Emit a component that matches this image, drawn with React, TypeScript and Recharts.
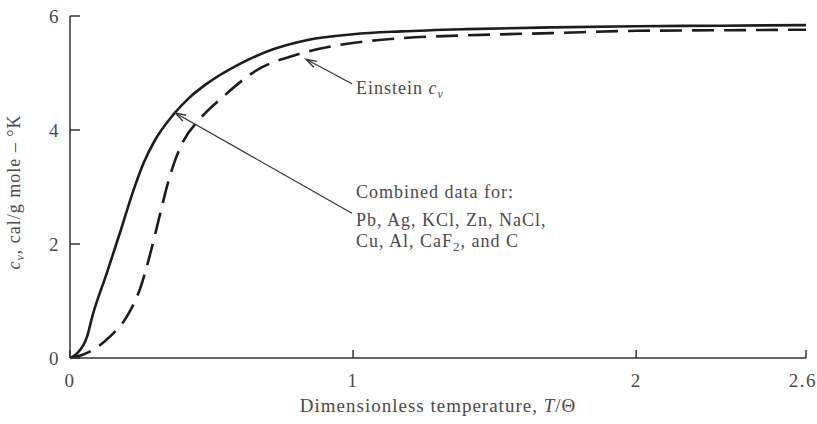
import React from 'react';
import { LineChart, Line, XAxis, YAxis, ReferenceLine, Label } from 'recharts';

// Combined data for Pb, Ag, KCl, Zn, NaCl, Cu, Al, CaF2, and C (solid)
const combinedT = [0, 0.025, 0.06, 0.08, 0.13, 0.18, 0.22, 0.26, 0.3, 0.365, 0.42, 0.48, 0.6, 0.72, 0.84, 1.0, 1.17, 1.4, 1.7, 2.0, 2.3, 2.6];
const combinedCv = [0, 0.08, 0.37, 0.75, 1.49, 2.25, 2.88, 3.42, 3.82, 4.27, 4.56, 4.8, 5.16, 5.42, 5.58, 5.68, 5.73, 5.77, 5.8, 5.82, 5.83, 5.84];

// Einstein c_v (dashed)
const einsteinT = [0, 0.04, 0.08, 0.14, 0.2, 0.25, 0.283, 0.318, 0.341, 0.365, 0.4, 0.46, 0.54, 0.66, 0.8, 0.95, 1.17, 1.4, 1.7, 2.0, 2.3, 2.6];
const einsteinCv = [0, 0.05, 0.14, 0.37, 0.72, 1.25, 1.82, 2.52, 2.98, 3.38, 3.8, 4.2, 4.58, 5.05, 5.32, 5.49, 5.61, 5.66, 5.7, 5.74, 5.75, 5.76];

const xTicks = [0, 1, 2, 2.6];
const yTicks = [0, 2, 4, 6];

// annotation arrows: [from, to] in data units
const einsteinArrow = [{ x: 0.996, y: 4.81 }, { x: 0.834, y: 5.24 }];
const combinedArrow = [{ x: 0.996, y: 2.54 }, { x: 0.372, y: 4.3 }];

const combined = combinedT.map((t, i) => ({ t, cv: combinedCv[i] }));
const einstein = einsteinT.map((t, i) => ({ t, cv: einsteinCv[i] }));

const FONT = '"Liberation Serif", "DejaVu Serif", serif';
const TEXT = '#4a4a4a';
const INK = '#1c1c1c';

function arrowPath(x1: number, y1: number, x2: number, y2: number) {
  const a = Math.atan2(y2 - y1, x2 - x1);
  const len = 11;
  const w = 0.3;
  const p1 = [x2 - len * Math.cos(a - w), y2 - len * Math.sin(a - w)];
  const p2 = [x2 - len * Math.cos(a + w), y2 - len * Math.sin(a + w)];
  return `M${p1[0]},${p1[1]} L${x2},${y2} L${p2[0]},${p2[1]}`;
}

const EinsteinNote = (props: any) => {
  const { x1, y1, x2, y2 } = props;
  return (
    <g>
      <line x1={x1} y1={y1} x2={x2} y2={y2} stroke="#333" strokeWidth={1.2} />
      <path d={arrowPath(x1, y1, x2, y2)} fill="none" stroke="#333" strokeWidth={1.4} />
      <text x={x1 + 4} y={y1 + 10} fontFamily={FONT} fontSize={18} letterSpacing={1} fill={TEXT}>
        Einstein <tspan fontStyle="italic">c</tspan>
        <tspan fontStyle="italic" fontSize={12} dy={4}>v</tspan>
      </text>
    </g>
  );
};

const CombinedNote = (props: any) => {
  const { x1, y1, x2, y2 } = props;
  return (
    <g>
      <line x1={x1} y1={y1} x2={x2} y2={y2} stroke="#333" strokeWidth={1.2} />
      <path d={arrowPath(x1, y1, x2, y2)} fill="none" stroke="#333" strokeWidth={1.4} />
      <g fontFamily={FONT} fontSize={18} letterSpacing={1} fill={TEXT}>
        <text x={x1 + 4} y={y1 - 15}>Combined data for:</text>
        <text x={x1 + 4} y={y1 + 13}>Pb, Ag, KCl, Zn, NaCl,</text>
        <text x={x1 + 4} y={y1 + 34}>
          Cu, Al, CaF<tspan fontSize={13} dy={4}>2</tspan>
          <tspan dy={-4}>, and C</tspan>
        </text>
      </g>
    </g>
  );
};

const XTitle = (props: any) => {
  const { x, y, width, height } = props.viewBox;
  return (
    <text x={x + width / 2} y={y + height - 12} textAnchor="middle" fontFamily={FONT} fontSize={19} letterSpacing={1} fill={TEXT}>
      Dimensionless temperature,  <tspan fontStyle="italic">T</tspan>/Θ
    </text>
  );
};

const YTitle = (props: any) => {
  const { y, height } = props.viewBox;
  const cx = 20;
  const cy = y + height / 2 + 5;
  return (
    <text x={cx} y={cy} transform={`rotate(-90, ${cx}, ${cy})`} textAnchor="middle" fontFamily={FONT} fontSize={18} letterSpacing={1} fill={TEXT}>
      <tspan fontStyle="italic">c</tspan>
      <tspan fontStyle="italic" fontSize={12} dy={4}>v</tspan>
      <tspan dy={-4}>, cal/g mole – °K</tspan>
    </text>
  );
};

const tickStyle = { fill: TEXT, fontFamily: FONT, fontSize: 19, letterSpacing: 1.5 };

export default function App() {
  return (
    <div style={{ position: 'absolute', left: 0, top: 0, background: '#fff' }}>
      <LineChart width={817} height={424} margin={{ top: 16, right: 11, bottom: 0, left: 0 }}>
        <XAxis
          type="number"
          dataKey="t"
          domain={[0, 2.6]}
          ticks={xTicks}
          allowDataOverflow
          height={66}
          tickSize={-8}
          tickMargin={24}
          stroke="#333"
          strokeWidth={1.5}
          tick={tickStyle}
        >
          <Label content={XTitle} />
        </XAxis>
        <YAxis
          type="number"
          dataKey="cv"
          domain={[0, 6]}
          ticks={yTicks}
          width={70}
          tickSize={-10}
          tickMargin={20}
          stroke="#333"
          strokeWidth={1.5}
          tick={tickStyle}
        >
          <Label content={YTitle} />
        </YAxis>
        <Line
          data={einstein}
          dataKey="cv"
          type="monotone"
          stroke={INK}
          strokeWidth={2.6}
          strokeDasharray="22 10"
          dot={false}
          isAnimationActive={false}
        />
        <Line
          data={combined}
          dataKey="cv"
          type="monotone"
          stroke={INK}
          strokeWidth={2.6}
          dot={false}
          isAnimationActive={false}
        />
        <ReferenceLine segment={einsteinArrow} shape={EinsteinNote} ifOverflow="visible" />
        <ReferenceLine segment={combinedArrow} shape={CombinedNote} ifOverflow="visible" />
      </LineChart>
    </div>
  );
}
